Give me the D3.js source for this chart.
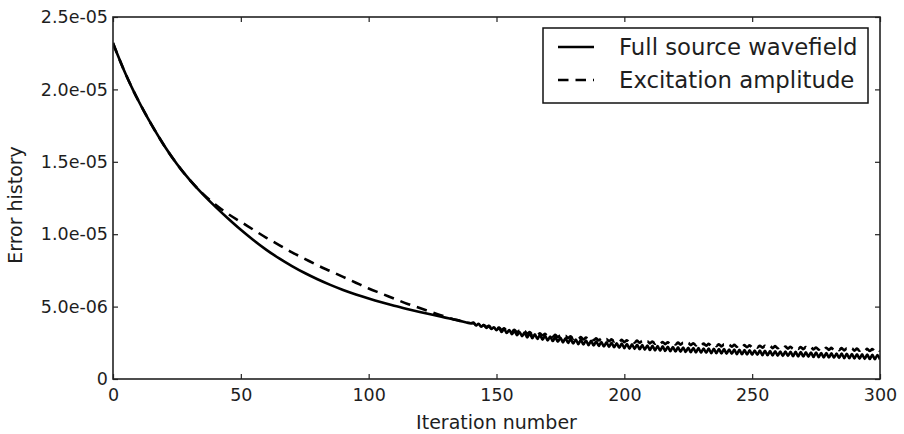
<!DOCTYPE html>
<html>
<head>
<meta charset="utf-8">
<script src="https://cdn.jsdelivr.net/npm/d3@7"></script>
<style>
  html, body { margin: 0; padding: 0; background: #fff; }
  svg { display: block; }
  text { font-family: "DejaVu Sans", sans-serif; fill: #1e1e1e; }
</style>
</head>
<body>
<svg id="chart" width="904" height="434"></svg>
<script>
// ---------------- DATA (values in units of 1e-6) ----------------
const headIterations = [0, 2, 4, 6, 8, 10, 12, 15, 20, 25, 30, 35, 40, 45, 50, 55, 60, 65, 70, 75,
  80, 85, 90, 95, 100, 105, 110, 115, 120, 125, 130, 135];
const tailIterations = d3.range(140, 301); // every iteration from 140 to 300

const fullSourceHead = [23.2, 22.3, 21.45, 20.65, 19.9, 19.2, 18.53, 17.58, 16.13, 14.85, 13.75, 12.78, 11.9, 11.08,
  10.3, 9.58, 8.92, 8.33, 7.8, 7.32, 6.89, 6.5, 6.15, 5.84, 5.56, 5.3, 5.06, 4.84, 4.63, 4.43, 4.24, 4.05];
const fullSourceTail = [3.85,
  3.89, 3.69, 3.81, 3.61, 3.73, 3.53, 3.65, 3.45, 3.57, 3.37,
  3.53, 3.25, 3.46, 3.18, 3.38, 3.10, 3.31, 3.03, 3.24, 2.96,
  3.20, 2.87, 3.15, 2.82, 3.09, 2.76, 3.04, 2.71, 2.99, 2.66,
  2.94, 2.62, 2.89, 2.57, 2.85, 2.53, 2.81, 2.49, 2.77, 2.45,
  2.73, 2.41, 2.70, 2.38, 2.66, 2.34, 2.63, 2.31, 2.60, 2.28,
  2.56, 2.25, 2.53, 2.22, 2.50, 2.19, 2.47, 2.16, 2.44, 2.13,
  2.42, 2.10, 2.39, 2.08, 2.37, 2.05, 2.34, 2.03, 2.31, 2.00,
  2.29, 1.98, 2.27, 1.96, 2.25, 1.94, 2.23, 1.92, 2.21, 1.90,
  2.19, 1.88, 2.18, 1.87, 2.16, 1.85, 2.14, 1.84, 2.13, 1.82,
  2.11, 1.81, 2.10, 1.79, 2.09, 1.78, 2.07, 1.76, 2.06, 1.75,
  2.04, 1.74, 2.03, 1.72, 2.02, 1.71, 2.00, 1.69, 1.99, 1.68,
  1.97, 1.67, 1.96, 1.65, 1.95, 1.64, 1.93, 1.62, 1.92, 1.61,
  1.90, 1.60, 1.89, 1.59, 1.88, 1.57, 1.87, 1.56, 1.86, 1.55,
  1.84, 1.54, 1.83, 1.52, 1.82, 1.51, 1.80, 1.49, 1.79, 1.48,
  1.77, 1.47, 1.76, 1.46, 1.75, 1.44, 1.74, 1.43, 1.73, 1.42,
  1.71, 1.41, 1.70, 1.39, 1.69, 1.38, 1.67, 1.36, 1.66, 1.35];

const excitationHead = [23.2, 22.3, 21.45, 20.65, 19.9, 19.2, 18.53, 17.58, 16.13, 14.85, 13.75, 12.82, 12.05, 11.4,
  10.85, 10.3, 9.75, 9.25, 8.75, 8.3, 7.85, 7.45, 7.05, 6.65, 6.25, 5.9, 5.55, 5.2, 4.9, 4.6, 4.3, 4.05];
const excitationTail = [3.85,
  3.87, 3.73, 3.80, 3.66, 3.73, 3.60, 3.67, 3.53, 3.60, 3.47,
  3.56, 3.39, 3.51, 3.34, 3.45, 3.28, 3.40, 3.23, 3.35, 3.18,
  3.30, 3.13, 3.25, 3.08, 3.20, 3.04, 3.16, 3.00, 3.12, 2.96,
  3.08, 2.92, 3.05, 2.89, 3.01, 2.85, 2.98, 2.82, 2.95, 2.79,
  2.92, 2.76, 2.89, 2.73, 2.86, 2.71, 2.84, 2.68, 2.81, 2.66,
  2.79, 2.64, 2.76, 2.61, 2.74, 2.59, 2.72, 2.57, 2.70, 2.55,
  2.68, 2.53, 2.66, 2.51, 2.65, 2.50, 2.63, 2.48, 2.61, 2.46,
  2.59, 2.44, 2.58, 2.43, 2.56, 2.41, 2.54, 2.40, 2.53, 2.38,
  2.51, 2.37, 2.50, 2.35, 2.49, 2.34, 2.47, 2.32, 2.46, 2.31,
  2.44, 2.30, 2.43, 2.28, 2.42, 2.27, 2.40, 2.25, 2.39, 2.24,
  2.37, 2.23, 2.36, 2.22, 2.35, 2.20, 2.34, 2.19, 2.33, 2.18,
  2.31, 2.17, 2.30, 2.16, 2.29, 2.14, 2.28, 2.13, 2.27, 2.12,
  2.25, 2.11, 2.24, 2.10, 2.23, 2.08, 2.22, 2.07, 2.21, 2.06,
  2.20, 2.05, 2.19, 2.04, 2.18, 2.03, 2.17, 2.02, 2.16, 2.01,
  2.15, 2.00, 2.14, 1.99, 2.13, 1.98, 2.12, 1.97, 2.11, 1.96,
  2.10, 1.95, 2.09, 1.94, 2.08, 1.93, 2.07, 1.92, 2.06, 1.91];

const xTicks = [0, 50, 100, 150, 200, 250, 300];
const yTicks = [0, 5e-6, 1e-5, 1.5e-5, 2e-5, 2.5e-5];
const yTickLabels = ["0", "5.0e-06", "1.0e-05", "1.5e-05", "2.0e-05", "2.5e-05"];
const seriesNames = ["Full source wavefield", "Excitation amplitude"];
const xLabel = "Iteration number";
const yLabel = "Error history";

// ---------------- CHART ----------------
const iterations = headIterations.concat(tailIterations);
const series = [
  { name: seriesNames[0], values: fullSourceHead.concat(fullSourceTail), dash: null },
  { name: seriesNames[1], values: excitationHead.concat(excitationTail), dash: "10.5,7" }
];

const svg = d3.select("#chart");
svg.append("rect").attr("width", 904).attr("height", 434).attr("fill", "#fff");

const plot = { left: 113, right: 880, top: 17, bottom: 379 };
const x = d3.scaleLinear().domain([0, 300]).range([plot.left, plot.right]);
const y = d3.scaleLinear().domain([0, 2.5e-5]).range([plot.bottom, plot.top]);

svg.append("clipPath").attr("id", "clip").append("rect")
  .attr("x", plot.left).attr("y", plot.top)
  .attr("width", plot.right - plot.left).attr("height", plot.bottom - plot.top);

const line = d3.line()
  .x((d, i) => x(iterations[i]))
  .y(d => y(d * 1e-6))
  .curve(d3.curveMonotoneX);

const lines = svg.append("g").attr("clip-path", "url(#clip)");
series.forEach(s => {
  lines.append("path")
    .datum(s.values)
    .attr("d", line)
    .attr("fill", "none")
    .attr("stroke", "#000")
    .attr("stroke-width", 2.6)
    .attr("stroke-linejoin", "round")
    .attr("stroke-dasharray", s.dash);
});

// Axes (ticks inward on all four sides)
const tickFont = 17.5;
const bottomAxis = svg.append("g").attr("transform", `translate(0,${plot.bottom})`)
  .call(d3.axisBottom(x).tickValues(xTicks).tickSizeInner(-5).tickSizeOuter(0).tickPadding(9.5).tickFormat(d3.format("d")));
const topAxis = svg.append("g").attr("transform", `translate(0,${plot.top})`)
  .call(d3.axisTop(x).tickValues(xTicks).tickSizeInner(-5).tickSizeOuter(0).tickFormat(""));
const leftAxis = svg.append("g").attr("transform", `translate(${plot.left},0)`)
  .call(d3.axisLeft(y).tickValues(yTicks).tickSizeInner(-5).tickSizeOuter(0).tickPadding(5)
    .tickFormat((d, i) => yTickLabels[i]));
const rightAxis = svg.append("g").attr("transform", `translate(${plot.right},0)`)
  .call(d3.axisRight(y).tickValues(yTicks).tickSizeInner(-5).tickSizeOuter(0).tickFormat(""));

[bottomAxis, topAxis, leftAxis, rightAxis].forEach(g => {
  g.select(".domain").remove();
  g.selectAll(".tick line").attr("stroke", "#222").attr("stroke-width", 1.2);
  g.selectAll(".tick text").attr("font-family", "DejaVu Sans").attr("font-size", tickFont).attr("fill", "#1e1e1e");
});

// Frame
svg.append("rect")
  .attr("x", plot.left).attr("y", plot.top)
  .attr("width", plot.right - plot.left).attr("height", plot.bottom - plot.top)
  .attr("fill", "none").attr("stroke", "#222").attr("stroke-width", 1.6);

// Axis labels
svg.append("text")
  .attr("x", (plot.left + plot.right) / 2).attr("y", 429)
  .attr("text-anchor", "middle").attr("font-size", 19)
  .text(xLabel);
svg.append("text")
  .attr("transform", `translate(22,${(plot.top + plot.bottom) / 2 + 7}) rotate(-90)`)
  .attr("text-anchor", "middle").attr("font-size", 19)
  .text(yLabel);

// Legend
const legend = svg.append("g");
legend.append("rect")
  .attr("x", 543).attr("y", 28).attr("width", 325).attr("height", 75)
  .attr("fill", "#fff").attr("stroke", "#111").attr("stroke-width", 1.5);
series.forEach((s, i) => {
  const ly = 47 + i * 33;
  legend.append("line")
    .attr("x1", 558).attr("x2", 594).attr("y1", ly).attr("y2", ly)
    .attr("stroke", "#000").attr("stroke-width", 2.6)
    .attr("stroke-dasharray", s.dash);
  legend.append("text")
    .attr("x", 619).attr("y", ly + 8)
    .attr("font-size", 22.8)
    .text(s.name);
});
</script>
</body>
</html>
